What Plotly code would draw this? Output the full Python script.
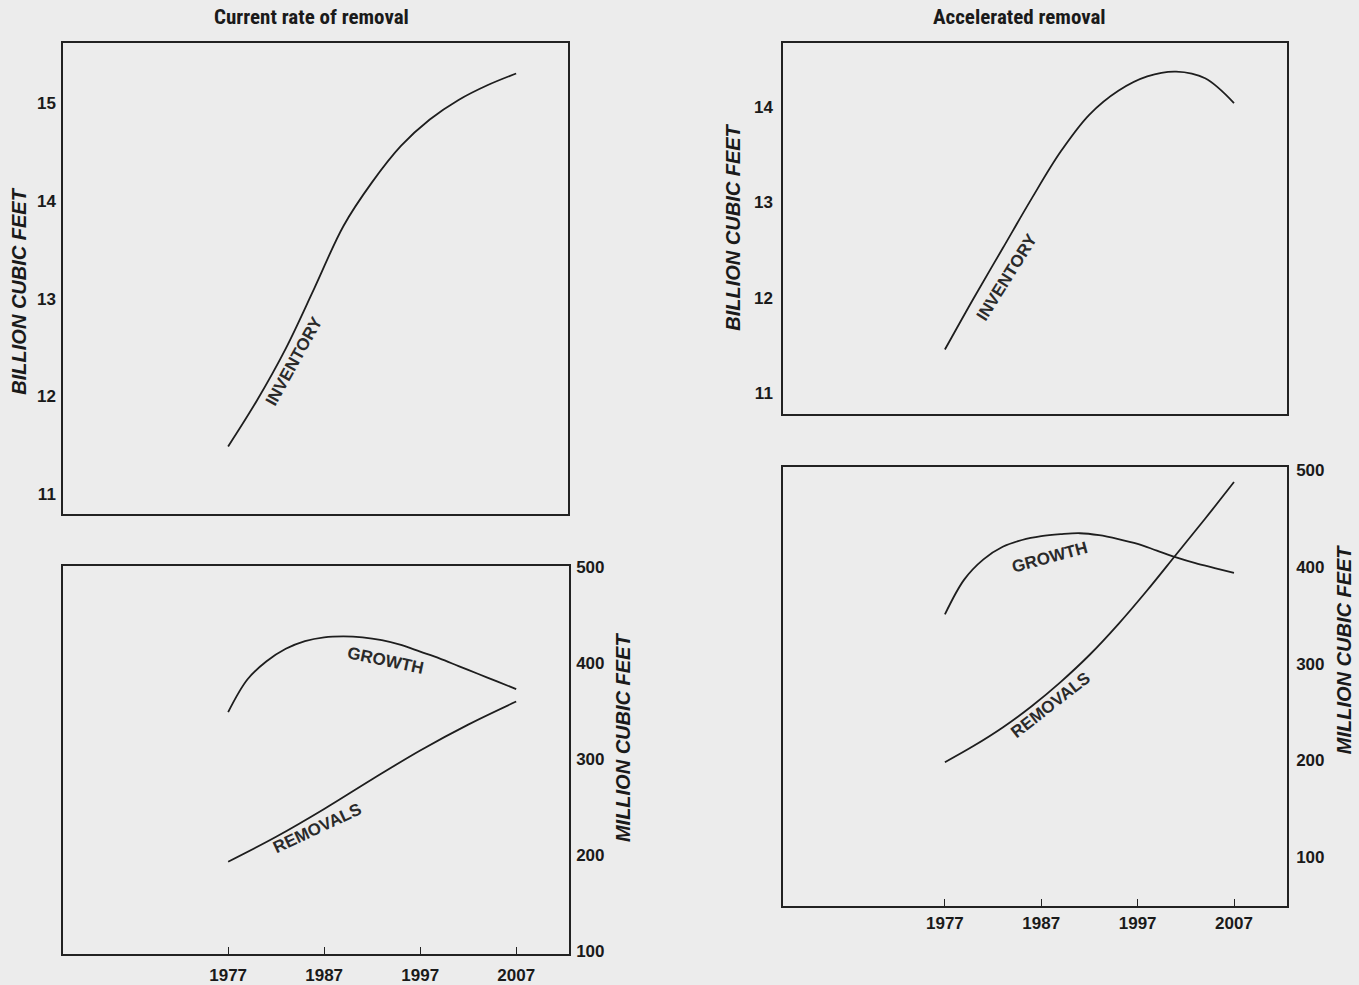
import plotly.graph_objects as go

W, H = 1359, 985

# ---------------- data ----------------
# Current rate of removal - inventory (billion cubic feet)
cur_inv_years = [1977, 1980, 1983, 1986, 1989, 1992, 1995, 1998, 2001, 2004, 2007]
cur_inv_vals = [11.49, 11.96, 12.49, 13.11, 13.74, 14.19, 14.56, 14.83, 15.03, 15.18, 15.30]

# Current rate of removal - growth & removals (million cubic feet)
cur_growth_years = [1977, 1979, 1981, 1983, 1985, 1987, 1989, 1991, 1993, 1995, 1997, 1999, 2001, 2003, 2005, 2007]
cur_growth_vals = [349, 383, 402, 415, 423, 427, 428, 427, 424, 419, 412, 405, 397, 389, 381, 373]
cur_rem_years = [1977, 1982, 1987, 1992, 1997, 2002, 2007]
cur_rem_vals = [193, 219, 248, 279, 309, 336, 360]

# Accelerated removal - inventory (billion cubic feet)
acc_inv_years = [1977, 1980, 1983, 1986, 1989, 1992, 1995, 1998, 2001, 2004, 2007]
acc_inv_vals = [11.46, 12.00, 12.52, 13.04, 13.53, 13.92, 14.17, 14.32, 14.37, 14.30, 14.04]

# Accelerated removal - growth & removals (million cubic feet)
acc_growth_years = [1977, 1979, 1981, 1983, 1985, 1987, 1989, 1991, 1993, 1995, 1997, 1999, 2001, 2003, 2005, 2007]
acc_growth_vals = [351, 387, 408, 421, 428, 432, 434, 435, 433, 429, 424, 417, 410, 404, 399, 394]
acc_rem_years = [1977, 1980, 1983, 1986, 1989, 1992, 1995, 1998, 2001, 2004, 2007]
acc_rem_vals = [198, 215, 234, 256, 281, 309, 341, 376, 413, 450, 488]

year_ticks = [1977, 1987, 1997, 2007]
inv_ticks_left = [11, 12, 13, 14, 15]
inv_ticks_right = [11, 12, 13, 14]
mcf_ticks = [100, 200, 300, 400, 500]

titles = ["Current rate of removal", "Accelerated removal"]
bcf_label = "BILLION CUBIC FEET"
mcf_label = "MILLION CUBIC FEET"

# ---------------- figure ----------------
BG = "#ececec"
LINE = "#1e1e1e"
FONT = "Liberation Sans, Arial, Helvetica, sans-serif"


def px_x(x):
    return x / W


def px_y(y):
    # vertical pixel target -> paper fraction (with small calibration)
    yy = (y - 8) / 0.986
    return 1 - yy / H


fig = go.Figure()
line_style = dict(color=LINE, width=1.8, shape="spline", smoothing=1.0)

fig.add_trace(go.Scatter(x=cur_inv_years, y=cur_inv_vals, mode="lines", line=line_style,
                         xaxis="x", yaxis="y", showlegend=False))
fig.add_trace(go.Scatter(x=cur_growth_years, y=cur_growth_vals, mode="lines", line=line_style,
                         xaxis="x2", yaxis="y2", showlegend=False))
fig.add_trace(go.Scatter(x=cur_rem_years, y=cur_rem_vals, mode="lines", line=line_style,
                         xaxis="x2", yaxis="y2", showlegend=False))
fig.add_trace(go.Scatter(x=acc_inv_years, y=acc_inv_vals, mode="lines", line=line_style,
                         xaxis="x3", yaxis="y3", showlegend=False))
fig.add_trace(go.Scatter(x=acc_growth_years, y=acc_growth_vals, mode="lines", line=line_style,
                         xaxis="x4", yaxis="y4", showlegend=False))
fig.add_trace(go.Scatter(x=acc_rem_years, y=acc_rem_vals, mode="lines", line=line_style,
                         xaxis="x4", yaxis="y4", showlegend=False))

tickfont = dict(family=FONT, size=17, color="#1a1a1a", weight="bold")
base_axis = dict(showline=True, mirror=True, linecolor="#222", linewidth=1.5,
                 showgrid=False, zeroline=False, fixedrange=True)

# box pixel positions
TL = dict(x0=63, x1=568, y0=43, y1=515)
BL = dict(x0=63, x1=569, y0=567, y1=955)
TR = dict(x0=783, x1=1287, y0=43, y1=415)
BR = dict(x0=783, x1=1287, y0=468, y1=907)


def xdom(b):
    return [px_x(b["x0"]), px_x(b["x1"])]


def ydom(b):
    return [px_y(b["y1"]), px_y(b["y0"])]


fig.update_layout(
    width=W, height=H, autosize=False,
    margin=dict(l=0, r=0, t=0, b=0),
    paper_bgcolor=BG, plot_bgcolor=BG,
    showlegend=False,
    xaxis=dict(base_axis, domain=xdom(TL), range=[1959.8, 2012.4], anchor="y",
               showticklabels=False, ticks=""),
    yaxis=dict(base_axis, domain=ydom(TL), range=[10.796, 15.612], anchor="x",
               tickvals=inv_ticks_left, ticks="", tickfont=tickfont, ticklabelstandoff=2),
    xaxis2=dict(base_axis, domain=xdom(BL), range=[1959.8, 2012.5], anchor="y2",
                tickvals=year_ticks, ticks="inside", ticklen=7, tickwidth=1.3, tickcolor="#222",
                tickfont=tickfont, ticklabelstandoff=5),
    yaxis2=dict(base_axis, domain=ydom(BL), range=[97, 501], anchor="x2", side="right",
                tickvals=mcf_ticks, ticks="", tickfont=tickfont, ticklabelstandoff=2),
    xaxis3=dict(base_axis, domain=xdom(TR), range=[1960.2, 2012.5], anchor="y3",
                showticklabels=False, ticks=""),
    yaxis3=dict(base_axis, domain=ydom(TR), range=[10.78, 14.67], anchor="x3",
                tickvals=inv_ticks_right, ticks="", tickfont=tickfont, ticklabelstandoff=5),
    xaxis4=dict(base_axis, domain=xdom(BR), range=[1960.2, 2012.5], anchor="y4",
                tickvals=year_ticks, ticks="inside", ticklen=7, tickwidth=1.3, tickcolor="#222",
                tickfont=tickfont, ticklabelstandoff=1),
    yaxis4=dict(base_axis, domain=ydom(BR), range=[49.4, 503.1], anchor="x4", side="right",
                tickvals=mcf_ticks, ticks="", tickfont=tickfont, ticklabelstandoff=4),
)

annotations = []


def ann(text, x, y, size, angle=0, italic=False, family=FONT, color="#1a1a1a"):
    annotations.append(dict(
        text=text, x=px_x(x), y=px_y(y), xref="paper", yref="paper",
        showarrow=False, textangle=angle, xanchor="center", yanchor="middle",
        font=dict(family=family, size=size, color=color, weight="bold",
                  style="italic" if italic else "normal"),
    ))


TITLE_FONT = "Liberation Sans Narrow, Roboto Condensed, Arial Narrow, Liberation Sans, sans-serif"
ann(titles[0], 311, 17, 21, family=TITLE_FONT)
ann(titles[1], 1020, 17, 21, family=TITLE_FONT)

ann(bcf_label, 19, 292, 20, angle=-90, italic=True)
ann(bcf_label, 733, 228, 20, angle=-90, italic=True)
ann(mcf_label, 623, 738, 20, angle=-90, italic=True)
ann(mcf_label, 1344, 650, 20, angle=-90, italic=True)

# curve labels
ann("INVENTORY", 294, 362, 17, angle=-61, color="#2a2a2a")
ann("INVENTORY", 1007, 278, 17, angle=-58, color="#2a2a2a")
ann("GROWTH", 385, 661, 17, angle=12, color="#2a2a2a")
ann("REMOVALS", 317, 830, 17, angle=-25, color="#2a2a2a")
ann("GROWTH", 1049, 558, 17, angle=-15, color="#2a2a2a")
ann("REMOVALS", 1050, 706, 17, angle=-38, color="#2a2a2a")

fig.update_layout(annotations=annotations)

fig.write_html(
    "out.html",
    config={"displayModeBar": False},
    default_width="1359px",
    default_height="985px",
    post_script=(
        "var s=document.documentElement.style;s.margin='0';s.padding='0';s.overflow='hidden';"
        "s.height='985px';s.background='#ececec';"
        "var b=document.body.style;b.margin='0';b.padding='0';b.overflow='hidden';"
        "b.height='985px';b.background='#ececec';"
    ),
)
